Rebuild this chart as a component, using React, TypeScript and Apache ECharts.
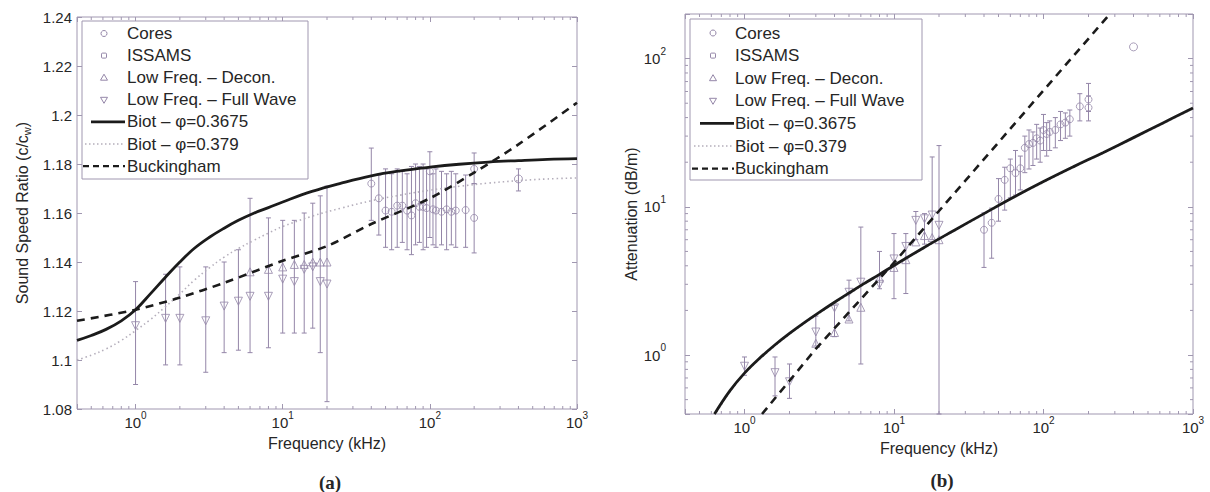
import React, { useEffect, useRef } from "react";
import * as echarts from "echarts";

// ---------------- data ----------------
// Low-frequency measurements (kHz)
const FREQ_LF = [1, 1.6, 2, 3, 4, 5, 6, 8, 10, 12, 14, 16, 18, 20];
const SPEED_FULLWAVE = [1.114, 1.117, 1.117, 1.116, 1.122, 1.124, 1.126, 1.126, 1.133, 1.132, 1.137, 1.138, 1.132, 1.131];
const SPEED_LF_LOW = [1.09, 1.098, 1.098, 1.095, 1.103, 1.104, 1.103, 1.105, 1.111, 1.111, 1.111, 1.113, 1.103, 1.083];
const SPEED_LF_HIGH = [1.132, 1.135, 1.138, 1.138, 1.14, 1.145, 1.166, 1.158, 1.157, 1.157, 1.16, 1.164, 1.167, 1.171];
const FREQ_DECON_SPEED = [6, 8, 10, 12, 14, 16, 18, 20];
const SPEED_DECON = [1.136, 1.137, 1.138, 1.139, 1.139, 1.14, 1.14, 1.14];

const ATTEN_FULLWAVE = [0.84, 0.76, 0.66, 1.43, 2.08, 2.65, 3.1, 3.0, 4.45, 5.4, 8.1, 8.3, 8.8, 7.5];
const ATTEN_LF_LOW = [0.73, 0.53, 0.51, 1.15, 1.33, 1.7, 0.87, 2.8, 2.4, 2.6, 6.0, 5.6, 6.0, 0.4];
const ATTEN_LF_HIGH = [0.97, 0.97, 0.87, 1.83, 2.17, 3.2, 7.3, 5.0, 6.6, 6.6, 9.3, 9.0, 21.7, 25.9];
const FREQ_DECON_ATTEN = [3, 4, 5, 6, 8, 10, 12, 14, 16, 18, 20];
const ATTEN_DECON = [1.2, 1.42, 1.75, 2.1, 3.3, 3.9, 4.4, 5.8, 6.4, 6.2, 6.0];

// ISSAMS (high frequency)
const FREQ_HF = [40, 45, 50, 55, 60, 65, 70, 75, 80, 85, 90, 95, 100, 105, 110, 120, 130, 140, 150, 175, 200, 200];
const SPEED_HF = [1.172, 1.166, 1.161, 1.1605, 1.163, 1.163, 1.161, 1.159, 1.164, 1.1625, 1.1625, 1.162, 1.177, 1.1615, 1.161, 1.1605, 1.1615, 1.1605, 1.161, 1.1612, 1.178, 1.158];
const SPEED_HF_LOW = [1.157, 1.151, 1.146, 1.145, 1.146, 1.148, 1.145, 1.143, 1.147, 1.148, 1.145, 1.146, 1.15, 1.147, 1.146, 1.147, 1.145, 1.147, 1.146, 1.146, 1.172, 1.1437];
const SPEED_HF_HIGH = [1.1865, 1.1755, 1.178, 1.176, 1.178, 1.177, 1.176, 1.179, 1.18, 1.179, 1.18, 1.178, 1.185, 1.176, 1.178, 1.177, 1.176, 1.177, 1.176, 1.1755, 1.1845, 1.172];
const ATTEN_HF = [7.0, 7.8, 11.3, 15.2, 18.2, 16.9, 18.2, 25, 26.5, 27, 29, 28, 33, 31, 32, 33, 36, 37, 39, 47.6, 53, 46.7];
const ATTEN_HF_LOW = [3.9, 4.5, 8.0, 9.5, 11.5, 12, 13, 17, 18, 19, 21, 20, 24, 22, 24, 25, 28, 29, 30, 38, 44, 38];
const ATTEN_HF_HIGH = [9.1, 9.8, 15.5, 18.5, 21, 24, 22, 30, 33, 32, 36, 34, 42, 37, 38, 40, 44, 43, 45, 58, 68, 56];

// Cores
const FREQ_CORES = [400];
const SPEED_CORES = [1.1739];
const SPEED_CORES_LOW = [1.169];
const SPEED_CORES_HIGH = [1.178];
const ATTEN_CORES = [120];

// Model curves
const FREQ_BIOT_SPEED = [0.4, 0.5, 0.63, 0.8, 1, 1.26, 1.58, 2, 2.5, 3.16, 4, 5, 6.3, 8, 10, 15.8, 25, 40, 63, 100, 158, 250, 400, 630, 1000];
const BIOT_3675_SPEED = [1.108, 1.11, 1.1125, 1.116, 1.1205, 1.127, 1.1335, 1.14, 1.1455, 1.15, 1.1538, 1.157, 1.1598, 1.1622, 1.1645, 1.1688, 1.1722, 1.1752, 1.1772, 1.1787, 1.1799, 1.1808, 1.1814, 1.1819, 1.1822];
const BIOT_379_SPEED = [1.1, 1.102, 1.1045, 1.108, 1.112, 1.1165, 1.1215, 1.127, 1.1325, 1.1375, 1.142, 1.1455, 1.1487, 1.1518, 1.1545, 1.1587, 1.162, 1.165, 1.1673, 1.1693, 1.1709, 1.1722, 1.1732, 1.1739, 1.1743];
const FREQ_BUCK_SPEED = [0.4, 1, 2, 4, 10, 20, 40, 100, 200, 400, 1000];
const BUCK_SPEED = [1.116, 1.1205, 1.1255, 1.1315, 1.1405, 1.1465, 1.1555, 1.166, 1.1765, 1.188, 1.205];

const FREQ_BIOT_ATTEN = [0.63, 0.8, 1, 1.26, 1.58, 2, 2.5, 3.16, 4, 5, 6.3, 8, 10, 15.8, 25, 40, 63, 100, 158, 250, 400, 630, 1000];
const BIOT_3675_ATTEN = [0.4, 0.575, 0.755, 0.95, 1.16, 1.4, 1.65, 1.94, 2.27, 2.62, 3.03, 3.5, 4.02, 5.3, 6.9, 9.0, 11.6, 14.8, 18.6, 23.2, 29.3, 36.8, 46.4];
const BIOT_379_ATTEN = [0.39, 0.565, 0.745, 0.935, 1.14, 1.38, 1.63, 1.91, 2.24, 2.58, 2.99, 3.45, 3.97, 5.23, 6.82, 8.9, 11.5, 14.6, 18.4, 23.0, 29.0, 36.4, 46.0];
const FREQ_BUCK_ATTEN = [1.31, 3, 10, 30, 100, 278];
const BUCK_ATTEN = [0.4, 1.1, 4.2, 15, 61, 200];

// Axis tick values
const MINOR_FREQ = [0.5, 0.6, 0.7, 0.8, 0.9, 2, 3, 4, 5, 6, 7, 8, 9, 20, 30, 40, 50, 60, 70, 80, 90, 200, 300, 400, 500, 600, 700, 800, 900];
const MINOR_ATTEN = [0.5, 0.6, 0.7, 0.8, 0.9, 2, 3, 4, 5, 6, 7, 8, 9, 20, 30, 40, 50, 60, 70, 80, 90];

const LEGEND_LABELS = [
  "Cores",
  "ISSAMS",
  "Low Freq. \u2013 Decon.",
  "Low Freq. \u2013 Full Wave",
  "Biot \u2013 \u03c6=0.3675",
  "Biot \u2013 \u03c6=0.379",
  "Buckingham",
];

// ---------------- styles ----------------
const AXIS = "#a097b0";
const MARK = "#9486a8";
const INK = "#1b1b1b";
const DOT = "#b4aebb";
const TEXT = "#262626";
const FONT = "'Liberation Sans', Arial, Helvetica, sans-serif";

const pairs = (xs: number[], ys: number[]) => xs.map((x, i) => [x, ys[i]]);
const triples = (xs: number[], lo: number[], hi: number[]) => xs.map((x, i) => [x, lo[i], hi[i]]);

const powLabel = (v: number) => {
  const n = Math.log10(v);
  const r = Math.round(n);
  if (Math.abs(n - r) > 1e-6) return "";
  return `{b|10}{e|${r}}`;
};
const powRich = {
  b: { fontSize: 15, fontFamily: FONT, color: TEXT, padding: [5, 0, 5, 0] },
  e: { fontSize: 10, fontFamily: FONT, color: TEXT, verticalAlign: "top" },
};

const errRender = (params: any, api: any) => {
  const x = api.value(0);
  const top = api.coord([x, api.value(2)]);
  const bot = api.coord([x, api.value(1)]);
  const cap = 2.5;
  const style = { stroke: MARK, lineWidth: 1, fill: null };
  return {
    type: "group",
    children: [
      { type: "line", shape: { x1: top[0], y1: top[1], x2: bot[0], y2: bot[1] }, style },
      { type: "line", shape: { x1: top[0] - cap, y1: top[1], x2: top[0] + cap, y2: top[1] }, style },
      { type: "line", shape: { x1: bot[0] - cap, y1: bot[1], x2: bot[0] + cap, y2: bot[1] }, style },
    ],
  };
};

const minorXRender = (params: any, api: any) => {
  const cs = params.coordSys;
  const x = api.coord([api.value(0), api.value(1)])[0];
  const b = cs.y + cs.height;
  const style = { stroke: AXIS, lineWidth: 1 };
  return {
    type: "group",
    children: [
      { type: "line", shape: { x1: x, y1: b, x2: x, y2: b - 3 }, style },
      { type: "line", shape: { x1: x, y1: cs.y, x2: x, y2: cs.y + 3 }, style },
    ],
  };
};
const minorYRender = (params: any, api: any) => {
  const cs = params.coordSys;
  const y = api.coord([api.value(0), api.value(1)])[1];
  const r = cs.x + cs.width;
  const style = { stroke: AXIS, lineWidth: 1 };
  return {
    type: "group",
    children: [
      { type: "line", shape: { x1: cs.x, y1: y, x2: cs.x + 3, y2: y }, style },
      { type: "line", shape: { x1: r, y1: y, x2: r - 3, y2: y }, style },
    ],
  };
};

function legendGraphics(boxX: number, boxY: number, boxW: number, boxH: number, y0: number, dy: number, symX: number, textX: number) {
  const els: any[] = [];
  els.push({
    type: "rect",
    shape: { x: boxX, y: boxY, width: boxW, height: boxH },
    style: { fill: "#ffffff", stroke: AXIS, lineWidth: 1 },
    z: 10,
  });
  const sym = { fill: "none", stroke: MARK, lineWidth: 1 };
  LEGEND_LABELS.forEach((label, i) => {
    const y = y0 + dy * i;
    els.push({
      type: "text",
      x: textX,
      y,
      style: { text: label, fontSize: 17, fontFamily: FONT, fill: TEXT, verticalAlign: "middle", textVerticalAlign: "middle", align: "left" },
      z: 11,
    });
    if (i === 0) els.push({ type: "circle", shape: { cx: symX, cy: y, r: 3 }, style: sym, z: 11 });
    if (i === 1) els.push({ type: "rect", shape: { x: symX - 2.5, y: y - 2.5, width: 5, height: 5, r: 1 }, style: sym, z: 11 });
    if (i === 2) els.push({ type: "polygon", shape: { points: [[symX, y - 3.5], [symX - 3.5, y + 2.5], [symX + 3.5, y + 2.5]] }, style: sym, z: 11 });
    if (i === 3) els.push({ type: "polygon", shape: { points: [[symX, y + 3.5], [symX - 3.5, y - 2.5], [symX + 3.5, y - 2.5]] }, style: sym, z: 11 });
    if (i === 4) els.push({ type: "line", shape: { x1: symX - 13, y1: y, x2: symX + 21, y2: y }, style: { stroke: INK, lineWidth: 2.6 }, z: 11 });
    if (i === 5) els.push({ type: "line", shape: { x1: symX - 19, y1: y, x2: symX + 19, y2: y }, style: { stroke: DOT, lineWidth: 1.5, lineDash: [1.5, 2.5] }, z: 11 });
    if (i === 6) els.push({ type: "line", shape: { x1: symX - 21, y1: y, x2: symX + 21, y2: y }, style: { stroke: INK, lineWidth: 2.4, lineDash: [6, 4] }, z: 11 });
  });
  return els;
}

function logAxisBase(gridIndex: number, min: number, max: number) {
  return {
    gridIndex,
    type: "log",
    logBase: 10,
    min,
    max,
    splitLine: { show: false },
    axisLine: { show: false },
    axisTick: { show: true, inside: true, length: 5, lineStyle: { color: AXIS } },
  };
}

export default function App() {
  const ref = useRef<HTMLDivElement>(null);
  useEffect(() => {
    if (!ref.current) return;
    const chart = echarts.init(ref.current, null, { renderer: "svg" });
    const nameStyle = { fontSize: 16, fontFamily: FONT, color: TEXT };
    const gridBox = { show: true, borderColor: AXIS, borderWidth: 1, backgroundColor: "transparent" };
    const scatter = (name: string, xi: number, yi: number, data: number[][], symbol: string, size: number, rotate = 0) => ({
      name,
      type: "scatter",
      xAxisIndex: xi,
      yAxisIndex: yi,
      data,
      symbol,
      symbolSize: size,
      symbolRotate: rotate,
      itemStyle: { color: "rgba(0,0,0,0)", borderColor: MARK, borderWidth: 1 },
      z: 3,
      silent: true,
    });
    const errs = (xi: number, yi: number, data: number[][]) => ({
      type: "custom",
      xAxisIndex: xi,
      yAxisIndex: yi,
      data,
      encode: { x: 0, y: [1, 2] },
      renderItem: errRender,
      z: 2,
      silent: true,
    });
    const line = (name: string, xi: number, yi: number, data: number[][], color: string, width: number, type: any, z: number, smooth: number) => ({
      name,
      type: "line",
      xAxisIndex: xi,
      yAxisIndex: yi,
      data,
      symbol: "none",
      smooth,
      clip: true,
      lineStyle: { color, width, type },
      z,
      silent: true,
    });

    chart.setOption({
      animation: false,
      backgroundColor: "#ffffff",
      grid: [
        { left: 77, top: 17, width: 500, height: 392, ...gridBox },
        { left: 685, top: 14, width: 508, height: 400, ...gridBox },
      ],
      xAxis: [
        {
          ...logAxisBase(0, 0.4, 1000),
          position: "bottom",
          axisLabel: { formatter: powLabel, rich: powRich, margin: 1 },
          name: "Frequency (kHz)",
          nameLocation: "middle",
          nameGap: 26,
          nameTextStyle: nameStyle,
        },
        {
          ...logAxisBase(1, 0.4, 1000),
          position: "bottom",
          axisLabel: { formatter: powLabel, rich: powRich, margin: 1 },
          name: "Frequency (kHz)",
          nameLocation: "middle",
          nameGap: 26,
          nameTextStyle: nameStyle,
        },
        { ...logAxisBase(0, 0.4, 1000), position: "top", axisLabel: { show: false } },
        { ...logAxisBase(1, 0.4, 1000), position: "top", axisLabel: { show: false } },
      ],
      yAxis: [
        {
          gridIndex: 0,
          type: "value",
          min: 1.08,
          max: 1.24,
          interval: 0.02,
          position: "left",
          splitLine: { show: false },
          axisLine: { show: false },
          axisTick: { show: true, inside: true, length: 5, lineStyle: { color: AXIS } },
          axisLabel: {
            formatter: (v: number) => String(Math.round(v * 100) / 100),
            fontSize: 15,
            fontFamily: FONT,
            color: TEXT,
            margin: 5,
          },
          name: "Sound Speed Ratio (c/c{w|w})",
          nameLocation: "middle",
          nameGap: 45,
          nameTextStyle: { ...nameStyle, rich: { w: { fontSize: 11, fontFamily: FONT, color: TEXT, padding: [8, 0, 0, 0] } } },
        },
        {
          ...logAxisBase(1, 0.4, 200),
          position: "left",
          axisLabel: { formatter: powLabel, rich: powRich, margin: 19 },
          name: "Attenuation (dB/m)",
          nameLocation: "middle",
          nameGap: 38,
          nameTextStyle: nameStyle,
        },
        {
          gridIndex: 0,
          type: "value",
          min: 1.08,
          max: 1.24,
          interval: 0.02,
          position: "right",
          splitLine: { show: false },
          axisLine: { show: false },
          axisTick: { show: true, inside: true, length: 5, lineStyle: { color: AXIS } },
          axisLabel: { show: false },
        },
        { ...logAxisBase(1, 0.4, 200), position: "right", axisLabel: { show: false } },
      ],
      series: [
        // minor ticks
        { type: "custom", xAxisIndex: 0, yAxisIndex: 0, data: MINOR_FREQ.map((v) => [v, 1.1]), encode: { x: 0, y: 1 }, renderItem: minorXRender, silent: true, z: 1 },
        { type: "custom", xAxisIndex: 1, yAxisIndex: 1, data: MINOR_FREQ.map((v) => [v, 1]), encode: { x: 0, y: 1 }, renderItem: minorXRender, silent: true, z: 1 },
        { type: "custom", xAxisIndex: 1, yAxisIndex: 1, data: MINOR_ATTEN.map((v) => [1, v]), encode: { x: 0, y: 1 }, renderItem: minorYRender, silent: true, z: 1 },

        // panel (a): sound speed ratio
        errs(0, 0, triples(FREQ_LF, SPEED_LF_LOW, SPEED_LF_HIGH)),
        errs(0, 0, triples(FREQ_HF, SPEED_HF_LOW, SPEED_HF_HIGH)),
        errs(0, 0, triples(FREQ_CORES, SPEED_CORES_LOW, SPEED_CORES_HIGH)),
        scatter("Cores", 0, 0, pairs(FREQ_CORES, SPEED_CORES), "circle", 8),
        scatter("ISSAMS", 0, 0, pairs(FREQ_HF, SPEED_HF), "circle", 7),
        scatter("Low Freq. \u2013 Decon.", 0, 0, pairs(FREQ_DECON_SPEED, SPEED_DECON), "triangle", 8),
        scatter("Low Freq. \u2013 Full Wave", 0, 0, pairs(FREQ_LF, SPEED_FULLWAVE), "triangle", 8, 180),
        line("Biot \u2013 \u03c6=0.379", 0, 0, pairs(FREQ_BIOT_SPEED, BIOT_379_SPEED), DOT, 1.6, [1.5, 3], 4, 0.4),
        line("Biot \u2013 \u03c6=0.3675", 0, 0, pairs(FREQ_BIOT_SPEED, BIOT_3675_SPEED), INK, 2.8, "solid", 5, 0.4),
        line("Buckingham", 0, 0, pairs(FREQ_BUCK_SPEED, BUCK_SPEED), INK, 2.6, [8, 6], 6, 0.3),

        // panel (b): attenuation
        errs(1, 1, triples(FREQ_LF, ATTEN_LF_LOW, ATTEN_LF_HIGH)),
        errs(1, 1, triples(FREQ_HF, ATTEN_HF_LOW, ATTEN_HF_HIGH)),
        scatter("Cores", 1, 1, pairs(FREQ_CORES, ATTEN_CORES), "circle", 8),
        scatter("ISSAMS", 1, 1, pairs(FREQ_HF, ATTEN_HF), "circle", 7),
        scatter("Low Freq. \u2013 Decon.", 1, 1, pairs(FREQ_DECON_ATTEN, ATTEN_DECON), "triangle", 8),
        scatter("Low Freq. \u2013 Full Wave", 1, 1, pairs(FREQ_LF, ATTEN_FULLWAVE), "triangle", 8, 180),
        line("Biot \u2013 \u03c6=0.379", 1, 1, pairs(FREQ_BIOT_ATTEN, BIOT_379_ATTEN), DOT, 1.6, [1.5, 3], 4, 0.4),
        line("Biot \u2013 \u03c6=0.3675", 1, 1, pairs(FREQ_BIOT_ATTEN, BIOT_3675_ATTEN), INK, 2.8, "solid", 5, 0.4),
        line("Buckingham", 1, 1, pairs(FREQ_BUCK_ATTEN, BUCK_ATTEN), INK, 2.6, [8, 6], 6, 0),
      ],
      graphic: [
        ...legendGraphics(82, 21, 226, 158, 33.5, 22.1, 104, 127),
        ...legendGraphics(690, 19, 232, 161, 33, 22.6, 713, 735),
        {
          type: "text",
          x: 330,
          y: 482,
          style: { text: "(a)", fontSize: 19, fontWeight: "bold", fontFamily: "'Liberation Serif', 'DejaVu Serif', serif", fill: TEXT, align: "center", verticalAlign: "middle", textAlign: "center", textVerticalAlign: "middle" },
        },
        {
          type: "text",
          x: 942,
          y: 480,
          style: { text: "(b)", fontSize: 19, fontWeight: "bold", fontFamily: "'Liberation Serif', 'DejaVu Serif', serif", fill: TEXT, align: "center", verticalAlign: "middle", textAlign: "center", textVerticalAlign: "middle" },
        },
      ],
    });
    return () => chart.dispose();
  }, []);
  return (
    <div
      ref={ref}
      style={{ position: "absolute", left: 0, top: 0, width: 1210, height: 492, background: "#ffffff" }}
    />
  );
}
